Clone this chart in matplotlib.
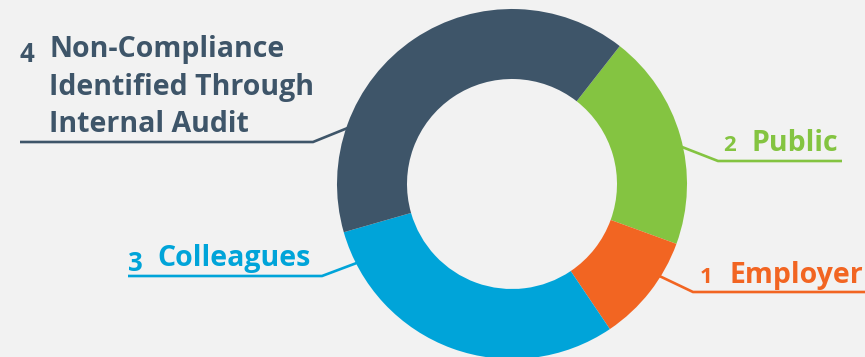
import numpy as np
import matplotlib
matplotlib.use("Agg")
import matplotlib.pyplot as plt

# data, in the order the wedges run clockwise from the top right
labels = ["Public", "Employer", "Colleagues",
          "Non-Compliance\nIdentified Through\nInternal Audit"]
numbers = [2, 1, 3, 4]
values = [2, 1, 3, 4]
colors = ["#84c441", "#f26522", "#00a4d9", "#3e5569"]

W, H = 865, 357
BG = "#f2f2f2"
cx, cy, R = 512, 184, 175      # donut centre / radius in image pixels (y down)

# label layout in image pixels: attach angle, elbow, line end, text x for number/label, baseline
layout = [
    dict(ang=12.5, elbow=(718, 161), end=842, nx=723, lx=752, base=151, drop=0),
    dict(ang=-32, elbow=(693, 292), end=865, nx=700, lx=729, base=283, drop=0),
    dict(ang=-153, elbow=(322, 276), end=128, nx=128, lx=157, base=266, drop=5),
    dict(ang=161, elbow=(313, 142), end=20, nx=20, lx=49, base=57, drop=5),
]

plt.rcParams['font.family'] = ['Open Sans', 'DejaVu Sans']

fig = plt.figure(figsize=(W / 100, H / 100), dpi=100, facecolor=BG)
ax = fig.add_axes([0, 0, 1, 1])
ax.set_facecolor(BG)

def fy(y):
    return H - y

ax.pie(values, colors=colors, startangle=52, counterclock=False,
       center=(cx, fy(cy)), radius=R,
       wedgeprops=dict(width=R * 0.4, edgecolor='none'))

for lab, num, col, lo in zip(labels, numbers, colors, layout):
    a = np.deg2rad(lo['ang'])
    sx = cx + (R - 2) * np.cos(a)
    sy = cy - (R - 2) * np.sin(a)
    ex, ey = lo['elbow']
    ax.plot([sx, ex, lo['end']], [fy(sy), fy(ey), fy(ey)], color=col,
            lw=1.9, solid_capstyle='butt', solid_joinstyle='miter')
    big = lo['drop'] > 0
    ax.text(lo['nx'], fy(lo['base'] + lo['drop']), str(num), color=col,
            fontsize=18.5 if big else 16, fontweight='bold',
            ha='left', va='baseline')
    for i, line in enumerate(lab.split('\n')):
        ax.text(lo['lx'], fy(lo['base'] + 37.5 * i), line, color=col,
                fontsize=20.5, fontweight='bold', ha='left', va='baseline')

ax.set_xlim(0, W)
ax.set_ylim(0, H)
ax.set_aspect('equal')
ax.axis('off')

fig.savefig("out.png", dpi=100, facecolor=BG)
